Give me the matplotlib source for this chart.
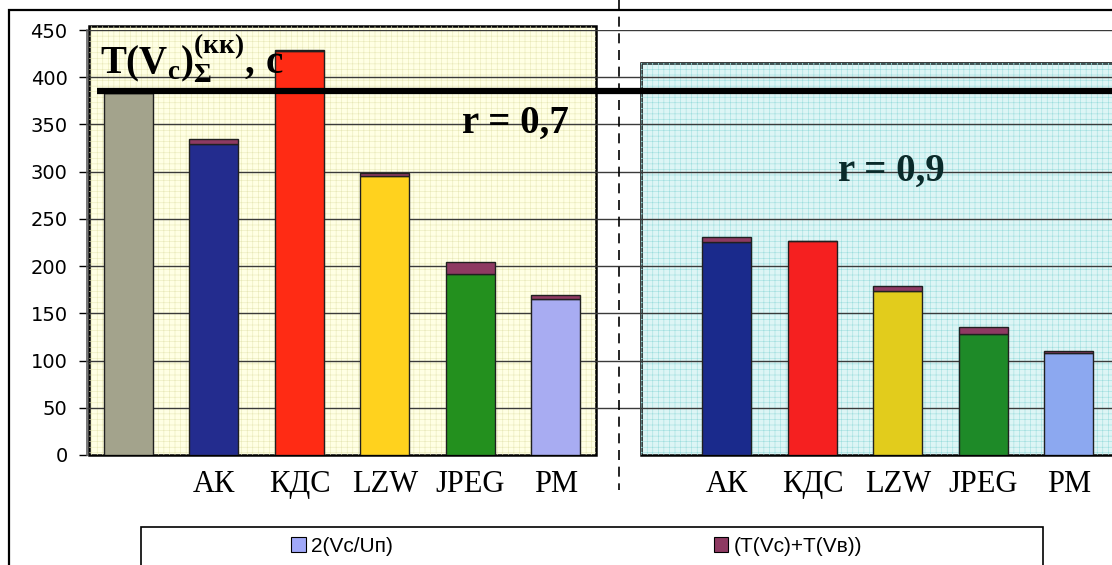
import numpy as np
import matplotlib
matplotlib.use('Agg')
import matplotlib.pyplot as plt
from matplotlib.patches import Rectangle, Patch
from matplotlib.lines import Line2D

plt.rcParams['mathtext.fontset'] = 'custom'
plt.rcParams['mathtext.rm'] = 'Liberation Serif:bold'
plt.rcParams['mathtext.bf'] = 'Liberation Serif:bold'
plt.rcParams['mathtext.it'] = 'Liberation Serif:bold'
plt.rcParams['hatch.linewidth'] = 0.4

# r = 0,7
cats_07 = ['', 'АК', 'КДС', 'LZW', 'JPEG', 'РМ']
base_07 = [383, 329, 428, 295, 192, 165]
extra_07 = [0, 6, 1, 4, 12, 4]
colors_07 = ['#A3A38C', '#232C8E', '#FF2B14', '#FFD21E', '#23901E', '#A8ACF2']

# r = 0,9
cats_09 = ['АК', 'КДС', 'LZW', 'JPEG', 'РМ']
base_09 = [226, 227, 174, 128, 108]
extra_09 = [5, 0, 5, 8, 2]
colors_09 = ['#1A2A8C', '#F52020', '#E2CC1C', '#1E8A28', '#8CA8F0']

extra_color = '#8E3A62'
t_level = 385
legend_labels = ['2(Vc/Uп)', '(T(Vc)+T(Vв))']

W, H = 1112, 565
fig = plt.figure(figsize=(W / 100, H / 100), dpi=100)
ax = fig.add_axes([87 / W, 110 / H, 1 - 87 / W, (455 - 30) / H])

x07 = np.arange(len(cats_07))
x09 = 7 + np.arange(len(cats_09))
bw = 0.573

# panel backgrounds
ax.add_patch(Rectangle((-0.456, 0), 5.92, 454, facecolor='#FFFFE4', edgecolor='black',
                       lw=1.8, clip_on=False, zorder=0))
ax.add_patch(Rectangle((-0.456, 0), 5.92, 454, facecolor='none', edgecolor='#E8E8B8',
                       lw=0, hatch='+++', clip_on=False, zorder=0.1))
ax.add_patch(Rectangle((5.99, 0), 6.0, 415, facecolor='#DDF5F5', edgecolor='black',
                       lw=1.8, clip_on=False, zorder=0))
ax.add_patch(Rectangle((5.99, 0), 6.0, 415, facecolor='none', edgecolor='#9EDEDE',
                       lw=0, hatch='+++', clip_on=False, zorder=0.1))

for y in range(50, 451, 50):
    ax.axhline(y, color='#3A3A3A', lw=1.0, zorder=0.5)

ax.bar(x07, base_07, bw, color=colors_07, edgecolor='#202020', lw=1, zorder=2)
ax.bar(x07, extra_07, bw, bottom=base_07, color=extra_color, edgecolor='#202020', lw=1, zorder=2)
ax.bar(x09, base_09, bw, color=colors_09, edgecolor='#202020', lw=1, zorder=2)
ax.bar(x09, extra_09, bw, bottom=base_09, color=extra_color, edgecolor='#202020', lw=1, zorder=2)

ax.plot([-0.368, 12], [t_level, t_level], color='black', lw=4.5, solid_capstyle='butt',
        zorder=3, clip_on=False)

ax.set_xlim(-0.485, 11.503)
ax.set_ylim(0, 450)
ax.set_yticks(range(0, 451, 50))
ax.tick_params(axis='y', labelsize=14, length=6, width=1, pad=8)
ax.set_xticks(list(x07[1:]) + list(x09))
ax.set_xticklabels(cats_07[1:] + cats_09, family='Liberation Serif', fontsize=22)
ax.tick_params(axis='x', length=0, pad=11)
for lbl in ax.get_yticklabels():
    lbl.set_family('DejaVu Sans')
for s in ['top', 'right', 'bottom']:
    ax.spines[s].set_visible(False)
ax.spines['left'].set_color('#606060')
ax.spines['left'].set_linewidth(1.2)
ax.set_facecolor('white')

ax.text(-0.33, 404, r'$\mathrm{T(V_{с})_{\Sigma}^{(кк)},\,с}$', fontsize=28, zorder=4,
        va='baseline')
ax.text(4.52, 351, 'r = 0,7', family='Liberation Serif', weight='bold', fontsize=28,
        ha='center', va='center', zorder=4)
ax.text(8.92, 300, 'r = 0,9', family='Liberation Serif', weight='bold', fontsize=28,
        ha='center', va='center', color='#0A2A2A', zorder=4)

# outer frame and divider
fig.patches.append(Rectangle((9 / W, -0.1), 1.2, 1 - 10 / H + 0.1, transform=fig.transFigure,
                             facecolor='none', edgecolor='black', lw=1.6, zorder=10))
fig.lines.append(Line2D([619 / W, 619 / W], [1, 1 - 490 / H], transform=fig.transFigure,
                        color='black', lw=1.2, ls=(0, (6, 4))))

# legend
fig.patches.append(Rectangle((141 / W, -0.1), 902 / W, 0.1 + (565 - 527) / H,
                             transform=fig.transFigure, facecolor='white',
                             edgecolor='black', lw=1.2, zorder=10))
handles = [Patch(facecolor='#A0A8F8', edgecolor='black', lw=0.8),
           Patch(facecolor=extra_color, edgecolor='black', lw=0.8)]
leg = fig.legend(handles, legend_labels, loc='center left', bbox_to_anchor=(291 / W, 1 - 546 / H),
                 ncol=2, frameon=False, prop={'family': 'Liberation Sans', 'size': 15},
                 handlelength=0.7, handleheight=0.7, handletextpad=0.25, columnspacing=15.4,
                 borderpad=0, borderaxespad=0)
leg.set_zorder(11)

fig.savefig('out.png', dpi=100)
